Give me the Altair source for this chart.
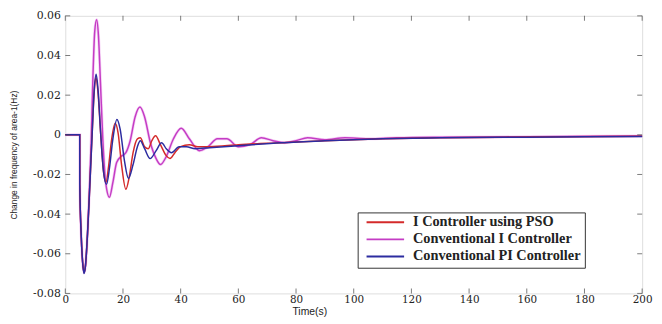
import altair as alt
import pandas as pd

# ---- data ----
series_names = ["I Controller using PSO", "Conventional I Controller", "Conventional PI Controller"]
series_colors = ["#d42a2a", "#c43cc4", "#2c2ca0"]

t_mag = [0, 5, 5.02, 5.5, 6, 6.5, 7, 7.7, 8.3, 9, 9.6, 10.2, 10.85, 11.5, 12.2, 13, 14, 15.3, 16.5,
         17.8, 19.3, 21, 22.5, 24.2, 25.9, 27.5, 29.5, 31.5, 33, 35, 37.5, 40.2, 43, 46.5, 49.5,
         52.7, 56, 60, 64, 68, 72, 76, 80, 84, 90, 97, 105, 115, 130, 160, 200]
v_mag = [0, 0, -0.025, -0.05, -0.064, -0.0695, -0.066, -0.05, -0.03, -0.002, 0.03, 0.052, 0.058,
         0.05, 0.026, -0.002, -0.024, -0.0315, -0.024, -0.014, -0.011, -0.009, -0.003, 0.009, 0.014,
         0.009, -0.004, -0.012, -0.015, -0.011, -0.002, 0.0033, -0.002, -0.008, -0.006, -0.002,
         -0.002, -0.006, -0.005, -0.0015, -0.003, -0.004, -0.003, -0.0015, -0.0025, -0.0015, -0.002,
         -0.0015, -0.0012, -0.001, -0.0006]

t_red = [0, 5, 5.02, 5.5, 6, 6.5, 7, 7.7, 8.3, 9.3, 10, 10.6, 11.3, 12.2, 13.2, 14.1, 15, 16, 17.3,
         18.3, 19.5, 21, 22.2, 23.5, 25, 26, 27.5, 28.8, 30, 31.3, 33, 35, 36.3, 38, 40, 43, 46, 50,
         60, 75, 90, 110, 130, 160, 200]
v_red = [0, 0, -0.025, -0.05, -0.064, -0.0695, -0.066, -0.05, -0.032, 0, 0.021, 0.029, 0.022, 0.002,
         -0.018, -0.024, -0.016, -0.003, 0.0058, 0.001, -0.015, -0.0275, -0.021, -0.009, -0.002,
         -0.0015, -0.006, -0.007, -0.003, -0.0005, -0.005, -0.0105, -0.012, -0.009, -0.006, -0.005,
         -0.006, -0.006, -0.005, -0.004, -0.003, -0.002, -0.0015, -0.0011, -0.0007]

t_blue = [0, 5, 5.02, 5.5, 6, 6.5, 7, 7.7, 8.3, 9.3, 10, 10.7, 11.4, 12.3, 13.3, 14.3, 15.3, 16.5,
          17.9, 19, 20.5, 21.9, 23.5, 25, 26, 27.5, 29.4, 31.5, 33.4, 35, 36.8, 39.5, 42, 45, 50, 60,
          75, 90, 110, 130, 160, 200]
v_blue = [0, 0, -0.025, -0.05, -0.064, -0.07, -0.066, -0.05, -0.032, 0, 0.022, 0.0305, 0.022, 0.0,
          -0.019, -0.025, -0.017, -0.002, 0.0077, 0.003, -0.013, -0.022, -0.015, -0.006, -0.003,
          -0.007, -0.012, -0.008, -0.004, -0.007, -0.009, -0.006, -0.006, -0.007, -0.0065, -0.0055,
          -0.004, -0.003, -0.002, -0.0015, -0.0012, -0.0008]

x_ticks = list(range(0, 201, 20))
y_ticks = [-0.08, -0.06, -0.04, -0.02, 0, 0.02, 0.04, 0.06]

# ---- build table (draw order: magenta, red, blue) ----
frames = [
    pd.DataFrame({"t": t_mag, "v": v_mag, "s": series_names[1], "o": 0}),
    pd.DataFrame({"t": t_red, "v": v_red, "s": series_names[0], "o": 1}),
    pd.DataFrame({"t": t_blue, "v": v_blue, "s": series_names[2], "o": 2}),
]
df = pd.concat(frames, ignore_index=True)
df_mag = frames[0]

W, H = 584, 281
serif = "DejaVu Serif"
sans = "Liberation Sans"

xscale = alt.Scale(domain=[0, 200], nice=False, zero=False)
yscale = alt.Scale(domain=[-0.08, 0.06], nice=False, zero=False)

ylabel = "datum.value == 0 ? '0' : (datum.value < 0 ? '-' + format(-datum.value, '.2f') : format(datum.value, '.2f'))"

# pale halo under the magenta curve
halo = alt.Chart(df_mag).mark_line(strokeWidth=3.0, interpolate="monotone", color="#f6d2f6").encode(
    x=alt.X("t:Q", scale=xscale),
    y=alt.Y("v:Q", scale=yscale),
)

lines = alt.Chart(df).mark_line(strokeWidth=1.5, interpolate="monotone").encode(
    x=alt.X("t:Q", scale=xscale,
            axis=alt.Axis(values=x_ticks, title="Time(s)", ticks=False, domain=False, grid=False,
                          labelFont=serif, labelFontSize=10.5, labelColor="#222", labelPadding=1,
                          titleFont=sans, titleFontSize=10.5, titleFontWeight="normal",
                          titleColor="#222", titlePadding=2, titleX=247, labelFlush=False)),
    y=alt.Y("v:Q", scale=yscale,
            axis=alt.Axis(values=y_ticks, title="Change in frequency of area-1(Hz)", ticks=False,
                          domain=False, grid=False, labelExpr=ylabel,
                          labelFont=serif, labelFontSize=11, labelColor="#222", labelPadding=5,
                          titleFont=sans, titleFontSize=8.5, titleFontWeight="normal",
                          titleColor="#222", titlePadding=14)),
    color=alt.Color("s:N", scale=alt.Scale(domain=series_names, range=series_colors),
                    legend=alt.Legend(title=None, orient="none", legendX=296, legendY=199,
                                      symbolType="stroke", symbolSize=1444, symbolStrokeWidth=2,
                                      symbolOffset=4, labelOffset=8, clipHeight=12, rowPadding=2.3,
                                      padding=4, strokeColor="#333", fillColor="white",
                                      labelFont="Liberation Serif", labelFontSize=14.5,
                                      labelFontWeight="bold", labelColor="#222", labelLimit=300)),
    order=alt.Order("o:Q"),
    detail="s:N",
)

# inward ticks (MATLAB style)
xt = pd.DataFrame({"t": x_ticks})
yt = pd.DataFrame({"v": y_ticks})
tick_style = dict(color="#444", thickness=1, size=5)
xb = alt.Chart(xt).mark_tick(orient="vertical", **tick_style).encode(
    x=alt.X("t:Q", scale=xscale), y=alt.value(H - 2.5))
xtop = alt.Chart(xt).mark_tick(orient="vertical", **tick_style).encode(
    x=alt.X("t:Q", scale=xscale), y=alt.value(2.5))
yl = alt.Chart(yt).mark_tick(orient="horizontal", **tick_style).encode(
    y=alt.Y("v:Q", scale=yscale), x=alt.value(2.5))
yr = alt.Chart(yt).mark_tick(orient="horizontal", **tick_style).encode(
    y=alt.Y("v:Q", scale=yscale), x=alt.value(W - 2.5))

chart = alt.layer(halo, lines, xb, xtop, yl, yr).properties(
    width=W, height=H,
    autosize=alt.AutoSizeParams(type="none"),
    padding={"left": 58, "top": 6, "right": 12, "bottom": 27},
).configure_view(stroke="#333", strokeWidth=1.2).configure(background="white")

chart.save("out.html", embed_options={"renderer": "svg", "actions": False})
